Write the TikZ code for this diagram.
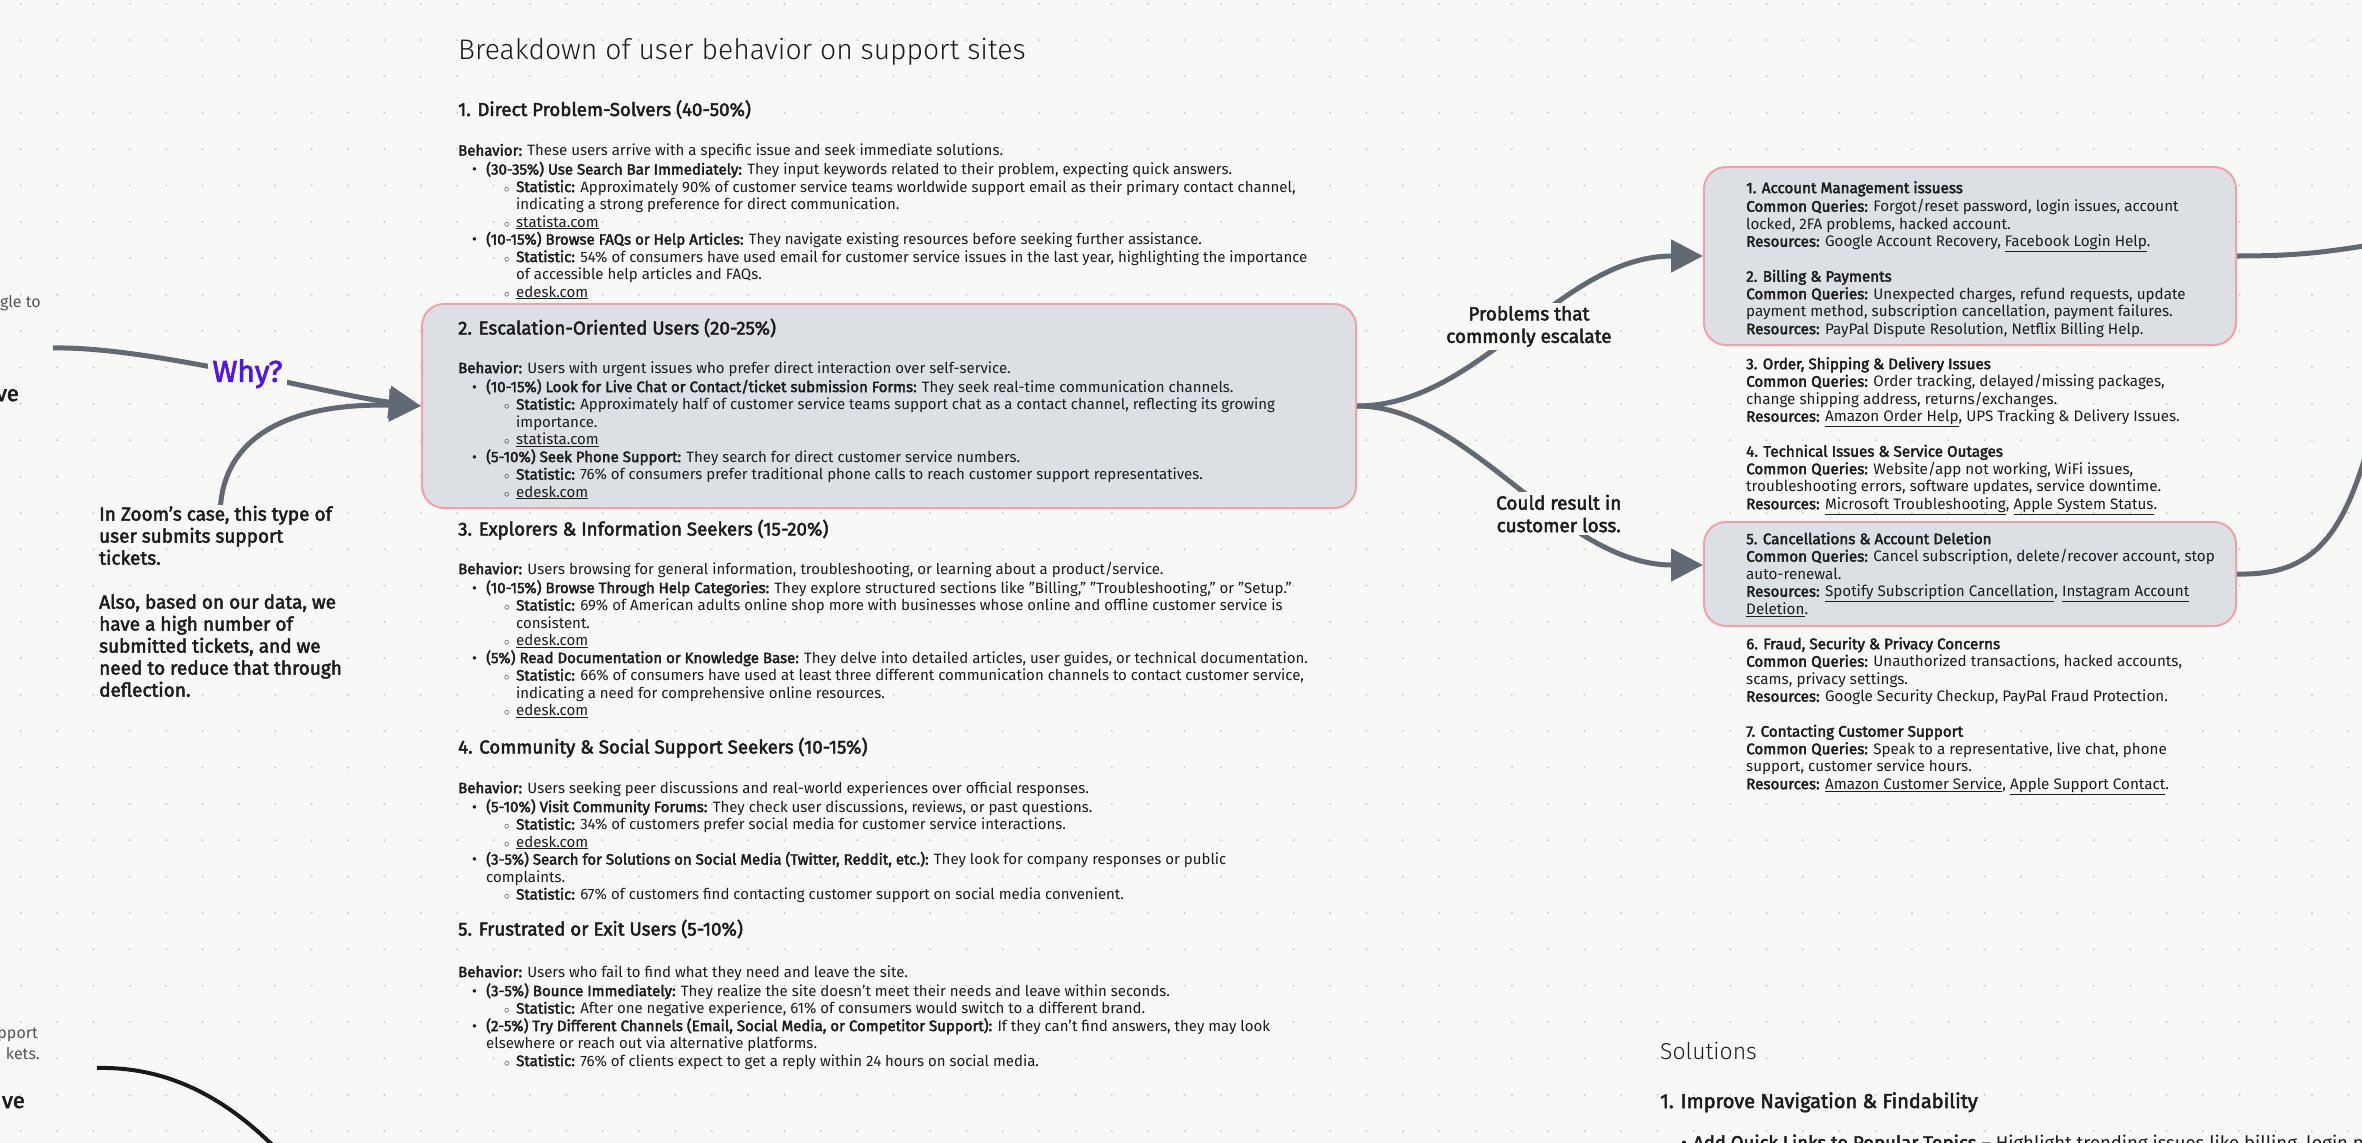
\documentclass[tikz,border=0pt]{standalone}
\usepackage{fontspec}
\setmainfont{Fira Sans}[AutoFakeBold=2.5]
\IfFontExistsTF{Fira Sans Light}{\newfontfamily\thinface{Fira Sans Light}}{\newfontfamily\thinface{Fira Sans}}
\usetikzlibrary{arrows.meta,positioning}
\definecolor{paper}{RGB}{248,248,246}
\definecolor{griddot}{RGB}{204,204,204}
\definecolor{cardfill}{RGB}{220,223,228}
\definecolor{cardline}{RGB}{242,160,170}
\definecolor{wire}{RGB}{98,105,115}
\definecolor{whyink}{RGB}{82,22,235}
\definecolor{ink}{RGB}{28,28,28}
\definecolor{faint}{RGB}{85,85,85}

% bullets of the middle column
\newcommand{\lvone}{\hspace*{14pt}\makebox[14pt][l]{\textbullet}}
\newcommand{\lvtwo}{\hspace*{46pt}\makebox[12pt][l]{$\scriptstyle\circ$}}
\newcommand{\wrapone}{\hspace*{28pt}}
\newcommand{\wraptwo}{\hspace*{58pt}}

\tikzset{
  card/.style={draw=cardline,line width=2pt,fill=cardfill,rounded corners=22pt},
  head/.style={inner sep=0pt,anchor=base west,text=ink,font=\fontsize{18.7pt}{22pt}\selectfont},
  body/.style={inner sep=0pt,anchor=north west,align=left,text=ink,font=\fontsize{15pt}{17.5pt}\selectfont},
  probs/.style={inner sep=0pt,anchor=north west,align=left,text=ink,font=\fontsize{15.2pt}{17.5pt}\selectfont},
  flow/.style={wire,line width=5pt,-{Triangle[length=32pt,width=32pt]}},
  tag/.style={fill=paper,align=center,inner sep=3pt,text=ink,font=\fontsize{19pt}{22.5pt}\selectfont},
  cut/.style={inner sep=0pt,anchor=base east,text=faint,font=\fontsize{16pt}{20pt}\selectfont},
  cutbold/.style={inner sep=0pt,anchor=base east,text=ink,font=\fontsize{22pt}{26pt}\selectfont}
}

\begin{document}
\begin{tikzpicture}[x=1pt,y=-1pt]
  \useasboundingbox (0,0) rectangle (2362,1143);
  \clip (0,0) rectangle (2362,1143);
  \fill[paper] (0,0) rectangle (2362,1143);
  \foreach \i in {0,...,64}{
    \foreach \j in {0,...,31}{
      \fill[griddot] (20.7+36.37*\i,3.7+36.37*\j) circle (1.1pt);
    }
  }

  % highlighted cards
  \node[card,minimum width=934pt,minimum height=204pt] (esc) at (889,406) {};
  \node[card,minimum width=532pt,minimum height=178pt] (acct) at (1970,256) {};
  \node[card,minimum width=532pt,minimum height=104pt] (cancel) at (1970,574) {};

  % middle column
  \node[inner sep=0pt,anchor=base west,text=ink,font=\thinface\fontsize{28.3pt}{32pt}\selectfont] (title) at (458,59) {Breakdown of user behavior on support sites};

  \node[head] (h1) at (458,116) {\textbf{1. Direct Problem-Solvers (40-50\%)}};
  \node[body] (b1) at (458,143.2) {\strut\textbf{Behavior:} These users arrive with a specific issue and seek immediate solutions.\\
    \lvone\textbf{(30-35\%) Use Search Bar Immediately:} They input keywords related to their problem, expecting quick answers.\\
    \lvtwo\textbf{Statistic:} Approximately 90\% of customer service teams worldwide support email as their primary contact channel,\\
    \wraptwo indicating a strong preference for direct communication.\\
    \lvtwo\underline{statista.com}\\
    \lvone\textbf{(10-15\%) Browse FAQs or Help Articles:} They navigate existing resources before seeking further assistance.\\
    \lvtwo\textbf{Statistic:} 54\% of consumers have used email for customer service issues in the last year, highlighting the importance\\
    \wraptwo of accessible help articles and FAQs.\\
    \lvtwo\underline{edesk.com}};

  \node[head] (h2) at (458,334.5) {\textbf{2. Escalation-Oriented Users (20-25\%)}};
  \node[body] (b2) at (458,360.7) {\strut\textbf{Behavior:} Users with urgent issues who prefer direct interaction over self-service.\\
    \lvone\textbf{(10-15\%) Look for Live Chat or Contact/ticket submission Forms:} They seek real-time communication channels.\\
    \lvtwo\textbf{Statistic:} Approximately half of customer service teams support chat as a contact channel, reflecting its growing\\
    \wraptwo importance.\\
    \lvtwo\underline{statista.com}\\
    \lvone\textbf{(5-10\%) Seek Phone Support:} They search for direct customer service numbers.\\
    \lvtwo\textbf{Statistic:} 76\% of consumers prefer traditional phone calls to reach customer support representatives.\\
    \lvtwo\underline{edesk.com}};

  \node[head] (h3) at (458,535.5) {\textbf{3. Explorers \& Information Seekers (15-20\%)}};
  \node[body] (b3) at (458,561.7) {\strut\textbf{Behavior:} Users browsing for general information, troubleshooting, or learning about a product/service.\\
    \lvone\textbf{(10-15\%) Browse Through Help Categories:} They explore structured sections like "Billing," "Troubleshooting," or "Setup."\\
    \lvtwo\textbf{Statistic:} 69\% of American adults online shop more with businesses whose online and offline customer service is\\
    \wraptwo consistent.\\
    \lvtwo\underline{edesk.com}\\
    \lvone\textbf{(5\%) Read Documentation or Knowledge Base:} They delve into detailed articles, user guides, or technical documentation.\\
    \lvtwo\textbf{Statistic:} 66\% of consumers have used at least three different communication channels to contact customer service,\\
    \wraptwo indicating a need for comprehensive online resources.\\
    \lvtwo\underline{edesk.com}};

  \node[head] (h4) at (458,753.5) {\textbf{4. Community \& Social Support Seekers (10-15\%)}};
  \node[body] (b4) at (458,780.7) {\strut\textbf{Behavior:} Users seeking peer discussions and real-world experiences over official responses.\\
    \lvone\textbf{(5-10\%) Visit Community Forums:} They check user discussions, reviews, or past questions.\\
    \lvtwo\textbf{Statistic:} 34\% of customers prefer social media for customer service interactions.\\
    \lvtwo\underline{edesk.com}\\
    \lvone\textbf{(3-5\%) Search for Solutions on Social Media (Twitter, Reddit, etc.):} They look for company responses or public\\
    \wrapone complaints.\\
    \lvtwo\textbf{Statistic:} 67\% of customers find contacting customer support on social media convenient.};

  \node[head] (h5) at (458,935.5) {\textbf{5. Frustrated or Exit Users (5-10\%)}};
  \node[body] (b5) at (458,964.7) {\strut\textbf{Behavior:} Users who fail to find what they need and leave the site.\\
    \lvone\textbf{(3-5\%) Bounce Immediately:} They realize the site doesn’t meet their needs and leave within seconds.\\
    \lvtwo\textbf{Statistic:} After one negative experience, 61\% of consumers would switch to a different brand.\\
    \lvone\textbf{(2-5\%) Try Different Channels (Email, Social Media, or Competitor Support):} If they can’t find answers, they may look\\
    \wrapone elsewhere or reach out via alternative platforms.\\
    \lvtwo\textbf{Statistic:} 76\% of clients expect to get a reply within 24 hours on social media.};

  % right column
  \node[probs] (issues) at (1746,180.7) {\strut\textbf{1. Account Management issuess}\\
    \textbf{Common Queries:} Forgot/reset password, login issues, account\\
    locked, 2FA problems, hacked account.\\
    \textbf{Resources:} Google Account Recovery, \underline{Facebook Login Help}.\\[17.5pt]
    \textbf{2. Billing \& Payments}\\
    \textbf{Common Queries:} Unexpected charges, refund requests, update\\
    payment method, subscription cancellation, payment failures.\\
    \textbf{Resources:} PayPal Dispute Resolution, Netflix Billing Help.\\[17.5pt]
    \textbf{3. Order, Shipping \& Delivery Issues}\\
    \textbf{Common Queries:} Order tracking, delayed/missing packages,\\
    change shipping address, returns/exchanges.\\
    \textbf{Resources:} \underline{Amazon Order Help}, UPS Tracking \& Delivery Issues.\\[17.5pt]
    \textbf{4. Technical Issues \& Service Outages}\\
    \textbf{Common Queries:} Website/app not working, WiFi issues,\\
    troubleshooting errors, software updates, service downtime.\\
    \textbf{Resources:} \underline{Microsoft Troubleshooting}, \underline{Apple System Status}.\\[17.5pt]
    \textbf{5. Cancellations \& Account Deletion}\\
    \textbf{Common Queries:} Cancel subscription, delete/recover account, stop\\
    auto-renewal.\\
    \textbf{Resources:} \underline{Spotify Subscription Cancellation}, \underline{Instagram Account}\\
    \underline{Deletion}.\\[17.5pt]
    \textbf{6. Fraud, Security \& Privacy Concerns}\\
    \textbf{Common Queries:} Unauthorized transactions, hacked accounts,\\
    scams, privacy settings.\\
    \textbf{Resources:} Google Security Checkup, PayPal Fraud Protection.\\[17.5pt]
    \textbf{7. Contacting Customer Support}\\
    \textbf{Common Queries:} Speak to a representative, live chat, phone\\
    support, customer service hours.\\
    \textbf{Resources:} \underline{Amazon Customer Service}, \underline{Apple Support Contact}.};

  % left note
  \node[inner sep=0pt,anchor=north west,align=left,text=ink,font=\fontsize{19pt}{22pt}\selectfont] (note) at (99,505) {\strut\textbf{In Zoom's case, this type of}\\\textbf{user submits support}\\\textbf{tickets.}\\[22pt]
    \textbf{Also, based on our data, we}\\\textbf{have a high number of}\\\textbf{submitted tickets, and we}\\\textbf{need to reduce that through}\\\textbf{deflection.}};

  % cut off at the left edge
  \node[cut] (cutA) at (41,307) {gle to};
  \node[cutbold] (cutB) at (19,401) {\textbf{ve}};
  \node[cut] (cutC) at (38,1038) {pport};
  \node[cut] (cutD) at (40,1059) {kets.};
  \node[cutbold] (cutE) at (25,1108) {\textbf{ve}};

  % solutions
  \node[inner sep=0pt,anchor=base west,text=ink,font=\thinface\fontsize{23pt}{26pt}\selectfont] (soltitle) at (1660,1059) {Solutions};
  \node[head,font=\fontsize{20pt}{24pt}\selectfont] (sol1) at (1660,1108) {\textbf{1. Improve Navigation \& Findability}};
  \node[inner sep=0pt,anchor=base west,text=ink,font=\fontsize{18.5pt}{22pt}\selectfont] (sol1a) at (1681,1149) {\textbullet\hspace{6pt}\textbf{Add Quick Links to Popular Topics} – Highlight trending issues like billing, login problems};

  % connectors
  \coordinate (whyfrom) at (53,348);
  \coordinate (leftfrom) at (97,1068);
  \coordinate (leftoff) at (300,1175);
  \coordinate (offA) at (2400,240);
  \coordinate (offB) at (2380,400);

  \draw[flow] (whyfrom) .. controls (150,346) and (330,395) .. (esc.west)
    node[pos=0.52,fill=paper,inner sep=5pt,text=whyink,font=\fontsize{30pt}{34pt}\selectfont] (whytag) {\textbf{Why?}};
  \draw[flow] (note.north) .. controls (227,430) and (300,403) .. (esc.west);

  \draw[flow] (esc.east) .. controls (1480,406) and (1560,256) .. (acct.west)
    node[tag,pos=0.52] (esctag) {\textbf{Problems that}\\\textbf{commonly escalate}};
  \draw[flow] (esc.east) .. controls (1470,406) and (1560,565) .. ([yshift=9pt]cancel.west)
    node[tag,pos=0.62] (losstag) {\textbf{Could result in}\\\textbf{customer loss.}};

  \draw[wire,line width=5pt] (acct.east) .. controls (2300,256) and (2330,252) .. (offA);
  \draw[wire,line width=5pt] (cancel.east) .. controls (2320,576) and (2350,530) .. (offB);
  \draw[black!90,line width=4pt] (leftfrom) .. controls (180,1066) and (245,1110) .. (leftoff);
\end{tikzpicture}
\end{document}
